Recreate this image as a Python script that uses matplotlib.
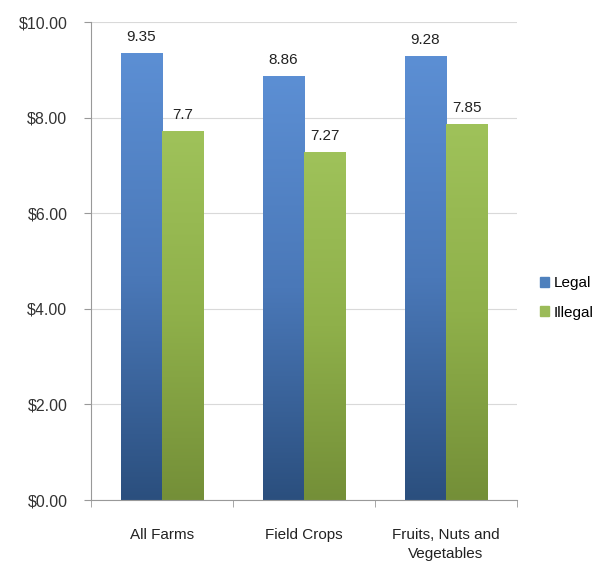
import numpy as np
import matplotlib.pyplot as plt
from matplotlib.colors import LinearSegmentedColormap
from matplotlib.patches import Patch

categories = ['All Farms', 'Field Crops', 'Fruits, Nuts and\nVegetables']
legal = [9.35, 8.86, 9.28]
illegal = [7.7, 7.27, 7.85]
legal_labels = ['9.35', '8.86', '9.28']
illegal_labels = ['7.7', '7.27', '7.85']

plt.rcParams['font.family'] = ['Liberation Sans', 'DejaVu Sans']

fig = plt.figure(figsize=(6.09, 5.71), dpi=100)
ax = fig.add_axes([91 / 609, 71 / 571, 426 / 609, 478 / 571])

blue_cmap = LinearSegmentedColormap.from_list('b', ['#2b4f7e', '#4a78b8', '#5c8fd4'])
green_cmap = LinearSegmentedColormap.from_list('g', ['#748f38', '#8fb04a', '#9fc25a'])

x = np.arange(len(categories))
w = 0.29
grad = np.linspace(0, 1, 256).reshape(-1, 1)

def grad_bars(xs, vals, cmap):
    # draw invisible bars, then fill each one with a vertical gradient
    bars = ax.bar(xs, vals, w, color='none', edgecolor='none', zorder=2)
    for b in bars:
        x0, y0 = b.get_x(), b.get_y()
        ax.imshow(grad, cmap=cmap, origin='lower', aspect='auto',
                  extent=[x0, x0 + b.get_width(), y0, y0 + b.get_height()],
                  zorder=2)
    return bars

grad_bars(x - w / 2, legal, blue_cmap)
grad_bars(x + w / 2, illegal, green_cmap)

for i in range(len(categories)):
    ax.text(x[i] - w / 2, legal[i] + 0.2, legal_labels[i], ha='center', va='bottom',
            fontsize=11, color='#222222')
    ax.text(x[i] + w / 2, illegal[i] + 0.2, illegal_labels[i], ha='center', va='bottom',
            fontsize=11, color='#222222')

ax.set_xlim(-0.5, 2.5)
ax.set_ylim(0, 10)
ax.set_yticks(np.arange(0, 10.1, 2))
ax.set_yticklabels(['$%.2f' % v for v in np.arange(0, 10.1, 2)])
ax.yaxis.grid(True, color='#d9d9d9', linewidth=0.8, zorder=0)
ax.set_axisbelow(True)

ax.set_xticks(x)
ax.set_xticklabels(categories, linespacing=1.5)
ax.set_xticks([-0.5, 0.5, 1.5, 2.5], minor=True)
ax.tick_params(axis='x', which='major', length=0, pad=20, labelsize=11, labelcolor='#222222')
ax.tick_params(axis='x', which='minor', length=5, color='#999999', direction='out')
ax.tick_params(axis='y', length=5, color='#999999', labelsize=11.5, labelcolor='#333333', pad=12)

for s in ['top', 'right']:
    ax.spines[s].set_visible(False)
ax.spines['left'].set_color('#999999')
ax.spines['bottom'].set_color('#999999')

handles = [Patch(color='#4f81bd', label='Legal'), Patch(color='#9bbb59', label='Illegal')]
fig.legend(handles=handles, loc='center left', bbox_to_anchor=(526 / 609, 1 - 298 / 571),
           frameon=False, fontsize=11, handlelength=0.6, handleheight=0.6,
           handletextpad=0.3, labelspacing=1.0)

fig.savefig('out.png', dpi=100)
